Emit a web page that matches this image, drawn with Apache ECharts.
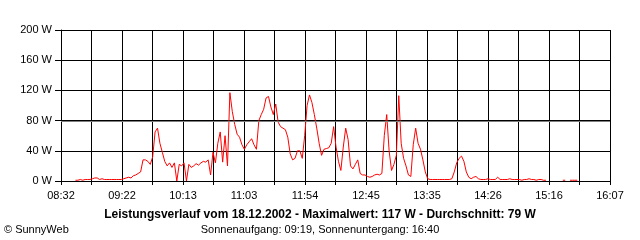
<!DOCTYPE html>
<html>
<head>
<meta charset="utf-8">
<script src="https://cdn.jsdelivr.net/npm/echarts@6/dist/echarts.min.js"></script>
<style>
html,body{margin:0;padding:0;background:#fff;}
#chart{width:640px;height:240px;}
</style>
</head>
<body>
<div id="chart"></div>
<script>
// x tick labels (every second vertical grid line)
const timeLabels = ['08:32','09:22','10:13','11:03','11:54','12:45','13:35','14:26','15:16','16:07'];
const axisSpanSec = 27306;   // 08:32 -> 16:07
const gridStepSec = 1517;    // 18 vertical grid intervals
const yTicks = [0, 40, 80, 120, 160, 200];
// samples: first sample 12 min after 08:32, one every 2 minutes (W)
const firstSampleMin = 12;
const stepMin = 2;
const watts = [
  1,1,2,1,2,2,2,3,4,4, 2,3,2,2,2,2,2,2,2,2,
  3,4,5,4,7,8,10,12,28,28, 26,22,32,65,70,50,38,26,20,24,
  18,24,0,22,20,24,0,22,18,20, 23,21,24,26,25,28,8,38,24,50,
  65,25,60,20,117,92,75,62,58,48, 42,48,52,56,48,42,80,88,95,110,
  112,98,88,102,78,72,70,68,58,36, 28,30,40,40,30,60,100,114,104,88,
  70,50,34,42,43,44,50,72,45,26, 14,45,70,55,20,16,22,28,10,8,
  8,6,5,6,8,9,8,10,60,88, 40,14,22,34,113,50,30,20,8,6,
  48,70,50,42,28,12,3,2,2,2, 2,2,2,2,2,2,3,12,24,30,
  33,26,12,5,3,5,6,3,2,2, 2,3,2,2,2,5,2,2,2,2,
  3,2,2,2,2,1,2,2,3,2, 2,1,2,2,1,1,null,null,null,null,
  null,null,1,1,null,1,1,1,1
];
const maxW = 117;
const averageW = 79;
const titleText = 'Leistungsverlauf vom 18.12.2002 - Maximalwert: ' + maxW + ' W - Durchschnitt: ' + averageW + ' W';
const subText = 'Sonnenaufgang: 09:19, Sonnenuntergang: 16:40';
const creditText = '\u00A9 SunnyWeb';

const seriesData = watts.map((w, i) => [(firstSampleMin + i * stepMin) * 60, w]);
const FONT = '"Liberation Sans", Arial, sans-serif';

const chart = echarts.init(document.getElementById('chart'), null, {renderer: 'canvas'});
chart.setOption({
  animation: false,
  backgroundColor: '#ffffff',
  grid: {left: 61, right: 30, top: 30, bottom: 59, show: false},
  xAxis: {
    type: 'value',
    min: 0, max: axisSpanSec, interval: gridStepSec,
    axisLine: {show: true, lineStyle: {color: '#000', width: 1}},
    axisTick: {show: true, length: 4, lineStyle: {color: '#000'}},
    splitLine: {show: true, lineStyle: {color: '#000', width: 1}},
    axisLabel: {
      show: true, margin: 9, color: '#000', fontFamily: FONT, fontSize: 11,
      showMinLabel: true, showMaxLabel: true,
      formatter: function (v) {
        const idx = Math.round(v / gridStepSec);
        if (idx % 2 !== 0) return '';
        return timeLabels[idx / 2] || '';
      }
    }
  },
  yAxis: {
    type: 'value',
    min: yTicks[0], max: yTicks[yTicks.length - 1], interval: yTicks[1] - yTicks[0],
    axisLine: {show: true, lineStyle: {color: '#000', width: 1}},
    axisTick: {show: true, length: 6, lineStyle: {color: '#000'}},
    splitLine: {show: true, lineStyle: {color: '#000', width: 1}},
    axisLabel: {
      margin: 9, color: '#000', fontFamily: FONT, fontSize: 11,
      formatter: v => v + ' W'
    }
  },
  title: [
    {text: titleText, left: 'center', top: 209, padding: 0,
     textStyle: {fontFamily: FONT, fontSize: 12, fontWeight: 'bold', color: '#000'}},
    {text: subText, left: 'center', top: 224, padding: 0,
     textStyle: {fontFamily: FONT, fontSize: 11, fontWeight: 'normal', color: '#000'}},
    {text: creditText, left: 4, top: 224, padding: 0,
     textStyle: {fontFamily: FONT, fontSize: 11, fontWeight: 'normal', color: '#000'}}
  ],
  series: [{
    type: 'line',
    data: seriesData,
    showSymbol: false,
    symbol: 'none',
    connectNulls: false,
    lineStyle: {color: '#ff0000', width: 1},
    z: 3,
    markLine: {
      silent: true,
      symbol: 'none',
      label: {show: false},
      lineStyle: {color: '#808080', width: 1, type: 'solid'},
      data: [{yAxis: averageW}]
    }
  }]
});
</script>
</body>
</html>
